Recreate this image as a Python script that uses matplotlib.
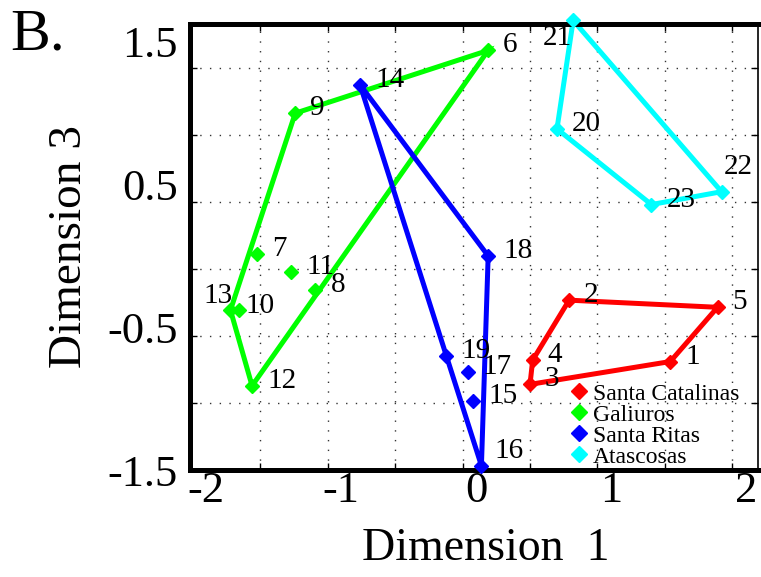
"""Panel B: populations on MDS dimensions 1 and 3, convex hull per mountain range."""
import matplotlib

matplotlib.use("Agg")
import matplotlib.pyplot as plt
import numpy as np
from matplotlib.lines import Line2D

plt.rcParams["font.family"] = ["Liberation Serif", "DejaVu Serif"]
plt.rcParams["axes.unicode_minus"] = False

# ---- data ------------------------------------------------------------------
sites = ["Santa Catalinas", "Galiuros", "Santa Ritas", "Atascosas"]
site_colors = ["#ff0000", "#00ff00", "#0000ff", "#00ffff"]

pop_id = list(range(1, 24))
pop_site = [0] * 5 + [1] * 8 + [2] * 6 + [3] * 4
dim1 = [1.44, 0.69, 0.40, 0.42, 1.79,
        0.09, -1.62, -1.19, -1.34, -1.76, -1.37, -1.66, -1.82,
        -0.86, -0.02, 0.04, -0.06, 0.09, -0.22,
        0.60, 0.72, 1.82, 1.30]
dim3 = [-0.74, -0.31, -0.90, -0.73, -0.36,
        1.44, 0.01, -0.24, 1.00, -0.38, -0.11, -0.91, -0.38,
        1.20, -1.02, -1.47, -0.81, 0.00, -0.70,
        0.89, 1.65, 0.45, 0.36]

xticks = [-2, -1, 0, 1, 2]
yticks = [-1.5, -0.5, 0.5, 1.5]

# label placement (pixels from the point); anything not listed uses the default
LBL_DEFAULT = (15, 5, "left")
LBL_SPECIAL = {10: (7, 4, "left"), 13: (2, 14, "right"), 16: (13, 15, "left"),
               21: (-1, -18, "right"), 22: (2, 25, "left")}

# dotted grid sits off the labelled ticks in the original
GRID_X = np.arange(-1.6, 2.0, 0.5)
GRID_Y = -0.09 + 0.47 * np.arange(-2, 4)


def hull(pts):
    """Monotone-chain convex hull, returned closed."""
    pts = sorted(map(tuple, pts))

    def cross(o, a, b):
        return (a[0] - o[0]) * (b[1] - o[1]) - (a[1] - o[1]) * (b[0] - o[0])

    lower, upper = [], []
    for p in pts:
        while len(lower) >= 2 and cross(lower[-2], lower[-1], p) <= 0:
            lower.pop()
        lower.append(p)
    for p in reversed(pts):
        while len(upper) >= 2 and cross(upper[-2], upper[-1], p) <= 0:
            upper.pop()
        upper.append(p)
    h = lower[:-1] + upper[:-1]
    return np.array(h + [h[0]])


fig = plt.figure(figsize=(7.61, 5.77), dpi=100)
ax = fig.add_axes([190 / 761, 1 - 470 / 577, 568 / 761, 446 / 577])

x = np.array(dim1)
y = np.array(dim3)
s = np.array(pop_site)
handles = []
for k, name in enumerate(sites):
    m = s == k
    h = hull(np.column_stack([x[m], y[m]]))
    ax.plot(h[:, 0], h[:, 1], color=site_colors[k], lw=3.6, clip_on=False,
            solid_joinstyle="miter", zorder=2)
    ax.plot(x[m], y[m], ls="none", marker="D", ms=7.5, color=site_colors[k],
            mec=site_colors[k], clip_on=False, zorder=3)
    handles.append(Line2D([], [], ls="none", marker="D", ms=8,
                          color=site_colors[k], label=name))

for i, px, py in zip(pop_id, x, y):
    dx, dy, ha = LBL_SPECIAL.get(i, LBL_DEFAULT)
    ax.annotate(str(i), (px, py), xytext=(dx, dy), textcoords="offset pixels",
                ha=ha, va="center", fontsize=21, zorder=4, annotation_clip=False)

ax.set_xlim(-2.12, 2.09)
ax.set_ylim(-1.485, 1.625)
ax.set_xticks(xticks)
ax.set_yticks(yticks)
ax.set_xticklabels([f"{v:g}" for v in xticks])
ax.set_yticklabels([f"{v:g}" for v in yticks])
ax.tick_params(which="major", length=0, labelsize=32)
ax.tick_params(axis="x", which="major", pad=1)
ax.tick_params(axis="y", which="major", pad=9)
ax.set_xticks(GRID_X, minor=True)
ax.set_yticks(GRID_Y, minor=True)
ax.tick_params(which="minor", direction="in", length=5, width=1,
               top=True, right=True)
ax.grid(which="minor", color="#333333", lw=1, ls=(0, (1, 6)))

for side in ("left", "bottom", "top"):
    ax.spines[side].set_linewidth(3.6)
ax.spines["right"].set_linewidth(1.2)

ax.set_xlabel("Dimension  1", fontsize=33)
ax.set_ylabel("Dimension 3", fontsize=34)
ax.xaxis.set_label_coords(0.521, -0.128)
ax.yaxis.set_label_coords(-0.175, 0.5)

ax.legend(handles=handles, loc="upper left", bbox_to_anchor=(0.672, 0.195),
          frameon=False, fontsize=17, handlelength=0.6, handletextpad=0.3,
          labelspacing=-0.02, borderpad=0, borderaxespad=0)

fig.text(10 / 761, 1 - 50 / 577, "B.", fontsize=43, va="baseline", ha="left")

fig.savefig("out.png", dpi=100)
